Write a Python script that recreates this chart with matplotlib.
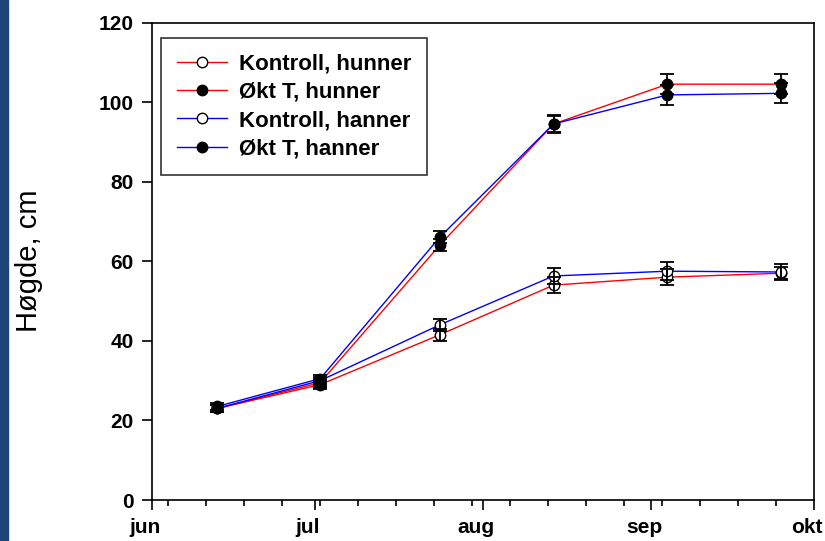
import datetime as dt

import matplotlib
matplotlib.use("Agg")
import matplotlib.pyplot as plt
import matplotlib.dates as mdates
import matplotlib.transforms as mtransforms
import numpy as np
from matplotlib.lines import Line2D
from matplotlib.patches import Rectangle

plt.rcParams['font.family'] = ['Liberation Sans', 'DejaVu Sans']

# measurement dates
dates = [dt.date(2007, 6, 13), dt.date(2007, 7, 2), dt.date(2007, 7, 24),
         dt.date(2007, 8, 14), dt.date(2007, 9, 4), dt.date(2007, 9, 25)]

# mean height (cm) and standard error
kontroll_hunner = [23.0, 29.0, 41.5, 54.0, 56.0, 57.0]
kontroll_hunner_se = [0.8, 1.0, 1.5, 2.0, 2.0, 1.5]
okt_hunner = [23.0, 29.5, 64.0, 94.5, 104.5, 104.5]
okt_hunner_se = [0.8, 1.0, 1.5, 2.0, 2.5, 2.5]
kontroll_hanner = [23.0, 30.0, 44.0, 56.3, 57.5, 57.3]
kontroll_hanner_se = [0.8, 1.0, 1.5, 2.0, 2.2, 2.0]
okt_hanner = [23.5, 30.5, 66.0, 94.5, 101.8, 102.2]
okt_hanner_se = [0.8, 1.0, 1.5, 2.2, 2.5, 2.5]

labels = ["Kontroll, hunner", "Økt T, hunner", "Kontroll, hanner", "Økt T, hanner"]
month_labels = ["jun", "jul", "aug", "sep", "okt"]

fig = plt.figure(figsize=(8.25, 5.41), dpi=100)
fig.patches.append(Rectangle((0, 0), 8 / 825, 1, transform=fig.transFigure,
                             color="#1d4577", zorder=-1))
ax = fig.add_axes([152 / 825, 41 / 541, 662 / 825, 477.5 / 541])

x = mdates.date2num(dates)
series = [
    (kontroll_hunner, kontroll_hunner_se, "#ff0000", "white"),
    (okt_hunner, okt_hunner_se, "#ff0000", "black"),
    (kontroll_hanner, kontroll_hanner_se, "#0000ff", "white"),
    (okt_hanner, okt_hanner_se, "#0000ff", "black"),
]
handles = []
for (y, se, col, face), lab in zip(series, labels):
    line, = ax.plot(x, y, color=col, lw=1.0, marker="o", ms=7.5,
                    mfc=face, mec="black", mew=1.0, zorder=2, label=lab)
    # error bars on top so they show through the open circles
    ax.errorbar(x, y, yerr=se, fmt="none", ecolor="black", elinewidth=1.3,
                capsize=5, capthick=1.3, zorder=3)
    handles.append(line)

start = mdates.date2num(dt.date(2007, 6, 1))
end = mdates.date2num(dt.date(2007, 10, 1))
ax.set_xlim(start, end)
ax.set_ylim(0, 120)

months = [dt.date(2007, m, 1) for m in range(6, 11)]
ax.set_xticks(mdates.date2num(months))
ax.set_xticklabels(month_labels)
ax.set_xticks(np.arange(mdates.date2num(dt.date(2007, 6, 4)), end, 7), minor=True)
ax.set_yticks(np.arange(0, 121, 20))

ax.tick_params(axis="both", which="major", direction="out", length=7, width=1.2,
               labelsize=15, pad=6)
ax.tick_params(axis="x", which="minor", direction="out", length=4, width=1.2)
for lab in ax.get_xticklabels() + ax.get_yticklabels():
    lab.set_fontweight("bold")
# month names sit slightly left of their ticks
shift = mtransforms.ScaledTranslation(-7 / 100, 0, fig.dpi_scale_trans)
for lab in ax.get_xticklabels():
    lab.set_transform(lab.get_transform() + shift)
for sp in ax.spines.values():
    sp.set_linewidth(1.2)

ax.set_ylabel("Høgde, cm", fontsize=21, va="center")
ax.yaxis.set_label_coords(-0.186, 0.5)

leg = ax.legend(handles=handles, loc="upper left", bbox_to_anchor=(0.014, 0.968),
                prop={"weight": "bold", "size": 16}, frameon=True, fancybox=False,
                edgecolor="black", handlelength=2.25, handletextpad=0.55,
                labelspacing=0.33, borderpad=0.7, borderaxespad=0)
leg.get_frame().set_linewidth(1.2)

fig.savefig("out.png", dpi=100)
